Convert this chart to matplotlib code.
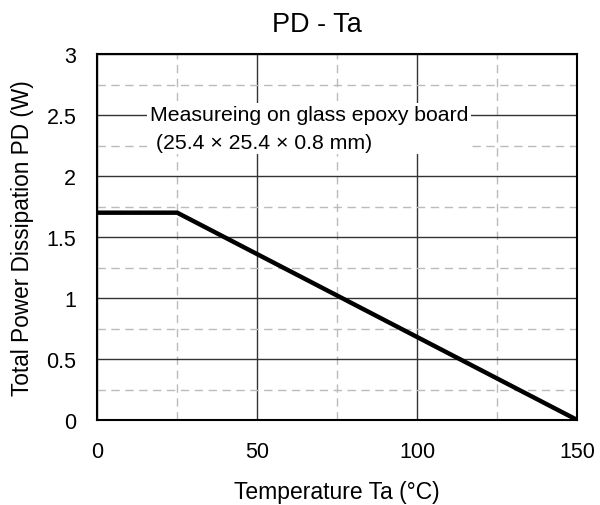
import matplotlib.pyplot as plt
from matplotlib.ticker import MultipleLocator

plt.rcParams['font.family'] = ['Liberation Sans', 'DejaVu Sans']

# Datos: curva de derating PD - Ta
ta = [0, 25, 150]
pd_w = [1.7, 1.7, 0]
x_ticks = [0, 50, 100, 150]
y_ticks = [0, 0.5, 1, 1.5, 2, 2.5, 3]
y_labels = ["0", "0.5", "1", "1.5", "2", "2.5", "3"]
nota = "Measureing on glass epoxy board\n (25.4 \u00d7 25.4 \u00d7 0.8 mm)"

fig = plt.figure(figsize=(6, 5.06), dpi=100)
ax = fig.add_axes([0.162, 0.168, 0.8, 0.723])

ax.plot(ta, pd_w, color="black", linewidth=3.2, solid_capstyle="butt", zorder=3)

ax.set_xlim(0, 150)
ax.set_ylim(0, 3)
ax.set_xticks(x_ticks)
ax.set_yticks(y_ticks)
ax.set_yticklabels(y_labels)
ax.xaxis.set_minor_locator(MultipleLocator(25))
ax.yaxis.set_minor_locator(MultipleLocator(0.25))

ax.grid(which="major", color="#333333", linewidth=1, linestyle="-")
ax.grid(which="minor", color="#bbbbbb", linewidth=1, linestyle=(0, (6, 4)))
ax.set_axisbelow(True)

ax.tick_params(which="both", direction="in", length=0, labelsize=15.5)
ax.tick_params(axis="x", pad=15)
ax.tick_params(axis="y", pad=15)
for s in ax.spines.values():
    s.set_linewidth(1.5)

# titulo un poco corrido a la izquierda como en el original
fig.text(0.528, 0.95, "PD - Ta", fontsize=19.5, ha="center", va="center")
ax.set_xlabel("Temperature Ta (\u00b0C)", fontsize=16.5, labelpad=13)
ax.set_ylabel("Total Power Dissipation PD (W)", fontsize=16.3, labelpad=9)

ax.text(16.5, 2.39, nota, fontsize=15.3, ha="left", va="center", linespacing=1.55,
        bbox=dict(facecolor="white", edgecolor="none", pad=2), zorder=2)

fig.savefig("out.png", dpi=100)
